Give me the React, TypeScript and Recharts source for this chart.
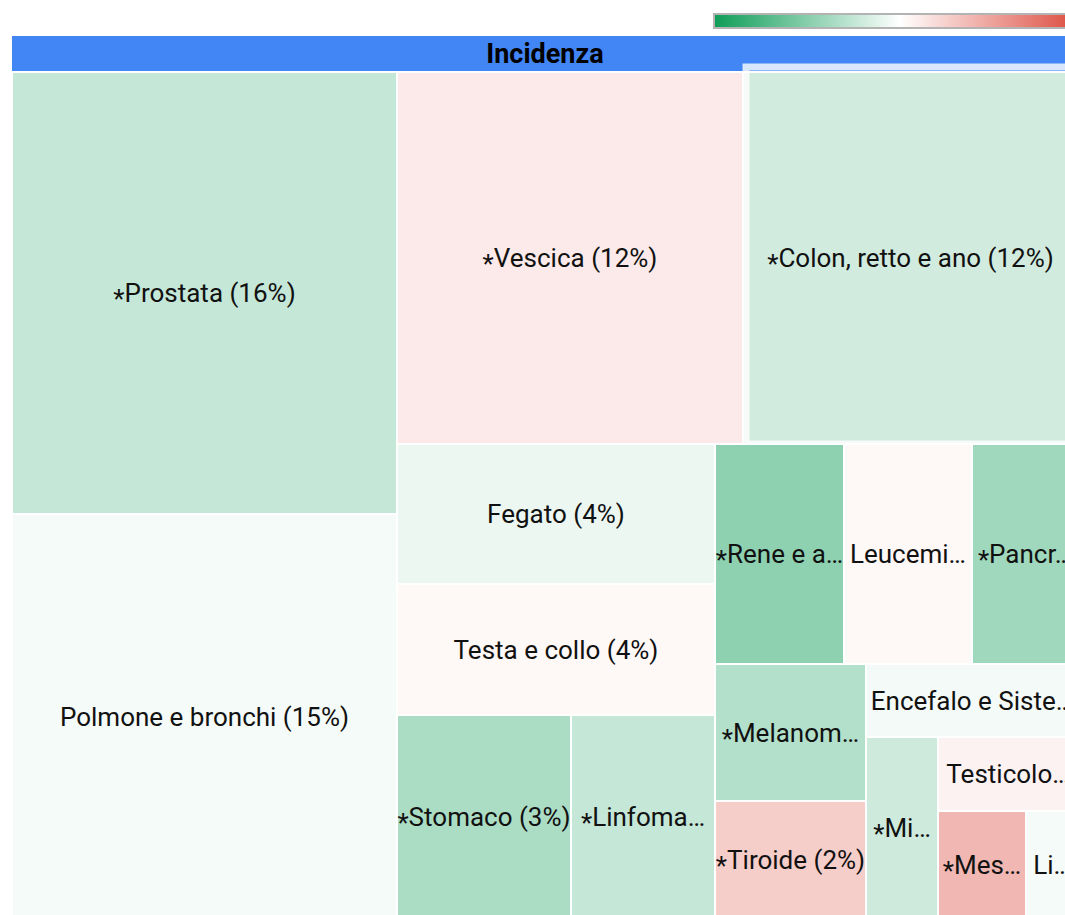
import React from 'react';
import { Treemap } from 'recharts';

// ---- data ----
const rootLabel = 'Incidenza';
const tumorNames = [
  'Prostata',
  'Polmone e bronchi',
  'Vescica',
  'Colon, retto e ano',
  'Fegato',
  'Testa e collo',
  'Stomaco',
  'Linfoma non-Hodgkin',
  'Rene e alte vie urinarie',
  'Leucemie',
  'Pancreas',
  'Melanoma',
  'Tiroide',
  'Encefalo e Sistema Nervoso Centrale',
  'Mieloma',
  'Testicolo',
  'Mesotelioma',
  'Linfoma di Hodgkin',
];
const percentLabels = [16, 15, 12, 12, 4, 4, 3, 3, 3, 3, 3, 2, 2, 2, 1, 1, 1, 1];
const sizeValues = [1702, 1559, 1287, 1246, 445, 417, 355, 294, 284, 282, 233, 207, 178, 155, 131, 104, 95, 56];
const colorValues = [-0.24, -0.04, 0.11, -0.19, -0.08, 0.04, -0.35, -0.24, -0.47, 0.04, -0.4, -0.32, 0.27, -0.05, -0.21, 0.07, 0.38, -0.04];
const starred = [true, false, true, true, false, false, true, true, true, false, true, true, true, false, true, false, true, false];
// grouping of the tiles (indices into the arrays above) used by the treemap layout
const layoutGroups: any[] = [0, 1, 2, 3, [4, [5, [6, 7]]], [[8, 9, 10], [11, 12, 13, [14, [15, 16, 17]]]]];
const highlightedIndex = 3;

// ---- helpers ----
type TNode = { name: string; value?: number; idx?: number; children?: TNode[] };
let groupCounter = 0;
const buildNode = (spec: any): TNode =>
  Array.isArray(spec)
    ? { name: `gruppo-${groupCounter++}`, children: spec.map(buildNode) }
    : { name: tumorNames[spec], value: sizeValues[spec], idx: spec };
const treeData = layoutGroups.map(buildNode);

const GREEN = [15, 157, 88];
const MID = [255, 255, 255];
const RED = [219, 68, 55];
const colorFor = (v: number) => {
  const t = Math.min(1, Math.abs(v));
  const end = v < 0 ? GREEN : RED;
  const c = MID.map((m, k) => Math.round(m + (end[k] - m) * t));
  return `rgb(${c[0]},${c[1]},${c[2]})`;
};

const FONT_SIZE = 26;
let ctx: CanvasRenderingContext2D | null = null;
const measure = (s: string) => {
  if (!ctx) ctx = document.createElement('canvas').getContext('2d');
  if (!ctx) return s.length * FONT_SIZE * 0.55;
  ctx.font = `${FONT_SIZE}px Roboto`;
  return ctx.measureText(s).width;
};

const cleanPrefix = (s: string) => s.replace(/[\s(]+$/, '');

const fitLabel = (star: string, label: string, width: number) => {
  if (measure(star + label) <= width) return label;
  const avail = width - 1.5;
  let n = label.length;
  while (n > 0 && measure(star + cleanPrefix(label.slice(0, n)) + '…') > avail) n--;
  return cleanPrefix(label.slice(0, n)) + '…';
};

const TileContent = (props: any) => {
  const { x, y, width, height, children, idx } = props;
  if ((children && children.length) || idx === undefined) return <g />;
  const star = starred[idx] ? '*' : '';
  const label = `${tumorNames[idx]} (${percentLabels[idx]}%)`;
  const text = fitLabel(star, label, width);
  const cy = y + height / 2 + FONT_SIZE * 0.35;
  return (
    <g>
      <rect x={x} y={y} width={width} height={height} fill={colorFor(colorValues[idx])} stroke="#ffffff" strokeWidth={2} />
      <text x={x + width / 2} y={cy} textAnchor="middle" fontFamily="Roboto" fontSize={FONT_SIZE} fill="#111">
        {star ? <tspan dy={6}>{star}</tspan> : null}
        <tspan dy={star ? -6 : 0}>{text}</tspan>
      </text>
      {idx === highlightedIndex ? (
        <rect x={x + 3} y={y - 5} width={width} height={height + 5} fill="none" stroke="#ffffff" strokeOpacity={0.8} strokeWidth={7} />
      ) : null}
    </g>
  );
};

export default function App() {
  return (
    <div style={{ position: 'relative', width: 1065, height: 915, overflow: 'hidden', fontFamily: 'Roboto' }}>
      <style>{`.tm-wrap svg { overflow: visible; } html, body { overflow: hidden; margin: 0; padding: 0; }`}</style>
      <div
        style={{
          position: 'absolute',
          left: 713,
          top: 13,
          width: 370,
          height: 12,
          border: '2px solid #b3b3b3',
          background: `linear-gradient(to right, rgb(${GREEN.join(',')}), #ffffff, rgb(${RED.join(',')}))`,
        }}
      />
      <div
        style={{
          position: 'absolute',
          left: 12,
          top: 36,
          width: 1066,
          height: 35,
          background: '#4285f4',
          display: 'flex',
          alignItems: 'center',
          justifyContent: 'center',
          fontWeight: 'bold',
          fontSize: 27,
          color: '#000',
        }}
      >
        {rootLabel}
      </div>
      <div className="tm-wrap" style={{ position: 'absolute', left: 12, top: 72 }}>
        <Treemap
          width={1066}
          height={847}
          data={treeData}
          dataKey="value"
          nameKey="name"
          aspectRatio={1}
          isAnimationActive={false}
          content={<TileContent />}
        />
      </div>
    </div>
  );
}
